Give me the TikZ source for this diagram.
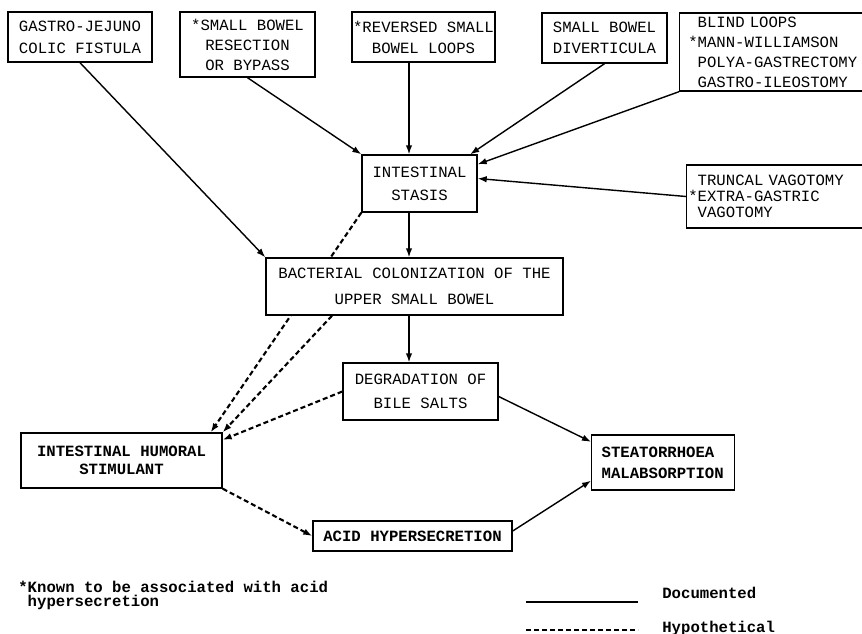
\documentclass[tikz,border=0pt]{standalone}
\usepackage{fontspec}
\setmonofont{Liberation Mono}
\usetikzlibrary{arrows.meta}
\usetikzlibrary{calc}
\usetikzlibrary{backgrounds}
\tikzset{>={Latex[length=1.8mm,width=1.3mm]}}

\begin{document}
\begin{tikzpicture}[box/.style = {draw, thick, fill=white, inner sep=0pt, align=center},
  txt/.style = {font=\ttfamily\fontsize{8.9}{#1}\selectfont},
  btxt/.style = {font=\ttfamily\bfseries\fontsize{8.9}{#1}\selectfont},
  doc/.style = {->, thick},
  hyp/.style = {->, line width=1.2pt, dash pattern=on 1mm off 0.6mm}]
\useasboundingbox (0,0) rectangle (17.24,12.66);
\clip (0,0) rectangle (17.24,12.66);
\coordinate (axis) at (8.18,0);
% causes
\node[box,txt=12.5,minimum width=2.88cm,minimum height=1cm] (gastro) at (1.60,11.92) {GASTRO-JEJUNO\\COLIC FISTULA};
\node[box,txt=11.4,minimum width=2.70cm,minimum height=1.30cm] (resect) at (4.95,11.77) {*SMALL BOWEL\\RESECTION\\OR BYPASS};
\node[box,txt=12,minimum width=2.86cm,minimum height=1cm] (revers) at (8.47,11.92) {*REVERSED SMALL\\BOWEL LOOPS};
\node[box,txt=12,minimum width=2.50cm,minimum height=1cm] (divert) at (12.09,11.90) {SMALL BOWEL\\DIVERTICULA};
\node[box,txt=11.4,align=left,anchor=west,text width=3.6cm,inner xsep=0.36cm,minimum height=1.56cm] (blind) at (13.58,11.62) {BLIND LOOPS\\\leavevmode\llap{*}MANN-WILLIAMSON\\POLYA-GASTRECTOMY\\GASTRO-ILEOSTOMY};
\node[box,txt=13,minimum width=2.30cm,minimum height=1.14cm] (stasis) at (8.39,8.99) {INTESTINAL\\STASIS};
\node[box,txt=9.2,align=left,anchor=west,text width=3.6cm,inner xsep=0.22cm,minimum height=1.26cm] (truncal) at (13.72,8.73) {TRUNCAL VAGOTOMY\\\leavevmode\llap{*}EXTRA-GASTRIC\\VAGOTOMY};
% effects
\node[box,txt=14.8,minimum width=5.94cm,minimum height=1.14cm] (bact) at (8.29,6.93) {BACTERIAL COLONIZATION OF THE\\UPPER SMALL BOWEL};
\node[box,txt=13.7,minimum width=3.10cm,minimum height=1.14cm] (degr) at (8.41,4.83) {DEGRADATION OF\\BILE SALTS};
\node[box,btxt=10,minimum width=4.02cm,minimum height=1.10cm] (hum) at (2.43,3.45) {INTESTINAL HUMORAL\\STIMULANT};
\node[box,btxt=12,align=left,anchor=west,text width=2.46cm,inner xsep=0.2cm,minimum height=1.10cm] (steato) at (11.82,3.41) {STEATORRHOEA\\MALABSORPTION};
\node[box,btxt=12,minimum width=3.98cm,minimum height=0.60cm] (acid) at (8.25,1.94) {ACID HYPERSECRETION};

\draw[doc] (gastro.south) -- (bact.north west);
\draw[doc] (resect.south) -- (stasis.north west);
\draw[doc] (revers.south -| axis) -- (stasis.north -| axis);
\draw[doc] (divert.south) -- ([xshift=-1.5mm]stasis.north east);
\draw[doc] (blind.south west) -- ([yshift=-2mm]stasis.north east);
\draw[doc] (truncal.west) -- ([yshift=1mm]stasis.east);
\draw[doc] (stasis.south -| axis) -- (bact.north -| axis);
\draw[doc] (bact.south -| axis) -- (degr.north -| axis);
\draw[doc] ([yshift=-1mm]degr.east) -- ([yshift=-1.5mm]steato.north west);
\draw[doc] ([yshift=1mm]acid.east) -- ([yshift=2mm]steato.south west);
\begin{scope}[on background layer]
  \draw[hyp] (stasis.south west) -- ([xshift=-2.4mm]hum.north east);
\end{scope}
\draw[hyp] ([xshift=-1.65cm]bact.south) -- (hum.north east);
\draw[hyp] (degr.west) -- ([yshift=-1.5mm]hum.north east);
\draw[hyp] (hum.south east) -- (acid.west);

% legend
\node[btxt=7.5,anchor=west,align=left,inner sep=0pt] (note) at (0.36,0.75) {*Known to be associated with acid\\\phantom{*}hypersecretion};
\coordinate (d1) at (10.52,0.62);
\coordinate (d2) at (12.76,0.62);
\coordinate (h1) at (10.52,0.06);
\coordinate (h2) at (12.76,0.06);
\draw[thick] (d1) -- (d2);
\draw[hyp,-] (h1) -- (h2);
\node[btxt=10,anchor=base west,inner sep=0pt] (docu) at (13.24,0.70) {Documented};
\node[btxt=10,anchor=base west,inner sep=0pt] (hypo) at (13.24,0.02) {Hypothetical};
\end{tikzpicture}
\end{document}
